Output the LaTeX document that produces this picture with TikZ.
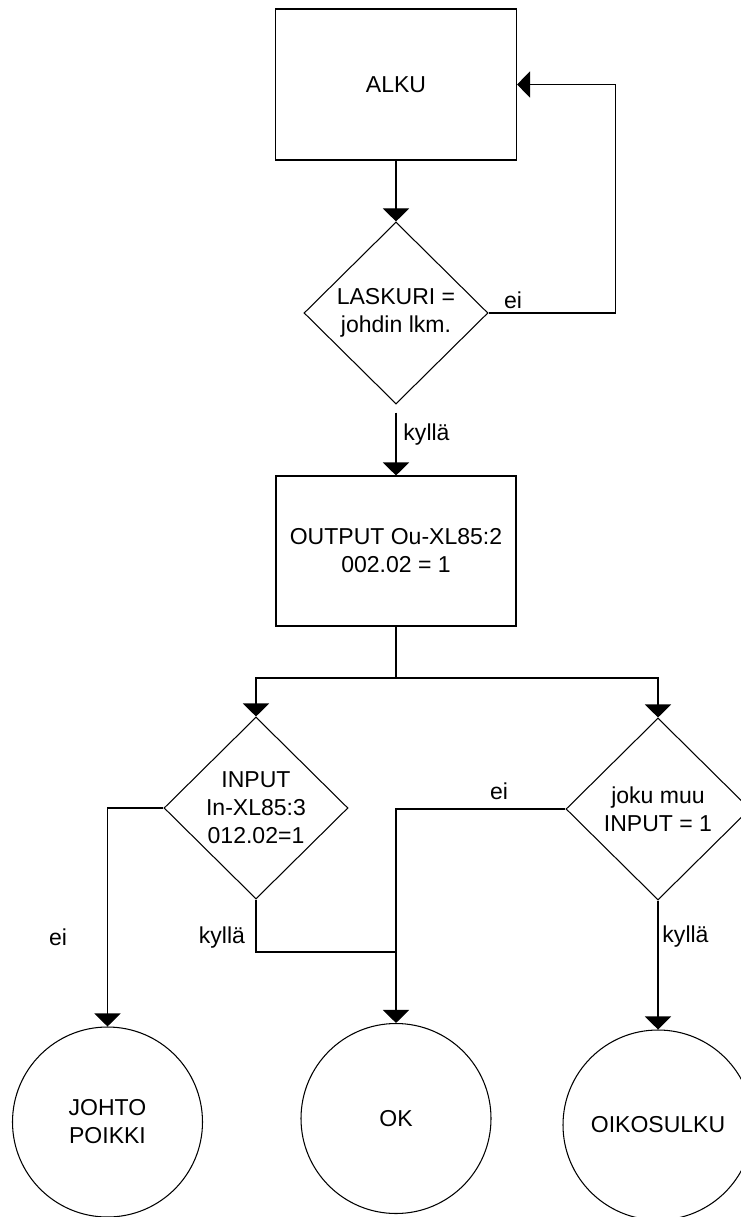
\documentclass[tikz,border=0pt]{standalone}
\usepackage{fontspec}
\setmainfont{Liberation Sans}
\usetikzlibrary{shapes.geometric,arrows.meta}

\tikzset{
  lohko/.style={draw, minimum width=4.82cm, minimum height=3.02cm, align=center},
  ehto/.style={draw, diamond, aspect=1, minimum width=3.68cm, minimum height=3.64cm, inner sep=0pt, align=center},
  tila/.style={draw, circle, minimum size=3.8cm, inner sep=0pt, align=center},
}

\begin{document}
\begin{tikzpicture}[line width=0.6pt, >={Triangle[width=0.52cm,length=0.26cm]},
    every node/.style={font=\fontsize{13.1}{15.9}\selectfont}]
    \useasboundingbox (0,0) rectangle (14.82,-24.34);

    % alku, laskurin tarkistus ja ulostulo
    \node[lohko] (alku) at (7.92,-1.69) {ALKU};
    \node[ehto] (laskuri) at (7.92,-6.26) {LASKURI =\\johdin lkm.};
    \node[lohko, minimum width=4.8cm, minimum height=3.0cm] (output) at (7.92,-11.02) {OUTPUT Ou-XL85:2\\002.02 = 1};

    % sisääntulojen ehdot
    \node[ehto] (input) at (5.12,-16.16) {INPUT\\In-XL85:3\\012.02=1};
    \node[ehto] (muu) at (13.16,-16.18) {joku muu\\INPUT = 1};

    % lopputilat
    \node[tila] (johto) at (2.15,-22.44) {JOHTO\\POIKKI};
    \node[tila] (ok) at (7.92,-22.37) {OK};
    \node[tila] (oiko) at (13.16,-22.5) {OIKOSULKU};

    % ylempi silmukka
    \draw[->] (alku.south) -- (laskuri.north);
    \draw[->] (laskuri.east) -- ++(2.54,0) |- (alku.east);
    \node (eiA) at (10.26,-6.0) {ei};
    \draw[->, shorten <=0.16cm] (laskuri.south) -- (output.north);
    \node (kyllaA) at (8.53,-8.7) {kyllä};

    % haarautuminen kahteen ehtoon
    \coordinate (haara) at (7.92,-13.56);
    \draw (output.south) -- (haara);
    \draw[->] (haara) -| (input.north);
    \draw[->] (haara) -| (muu.north);

    % ehdoista lopputiloihin
    \draw[->] (input.west) -| (johto.north);
    \node (eiB) at (1.16,-18.74) {ei};
    \coordinate (liitos) at (7.92,-19.04);
    \draw (input.south) |- (liitos);
    \node (kyllaB) at (4.44,-18.76) {kyllä};
    \draw[->] (muu.west) -| (ok.north);
    \node (eiC) at (9.98,-15.82) {ei};
    \draw[->] (muu.south) -- (oiko.north);
    \node (kyllaC) at (13.71,-18.74) {kyllä};
  \end{tikzpicture}
\end{document}
